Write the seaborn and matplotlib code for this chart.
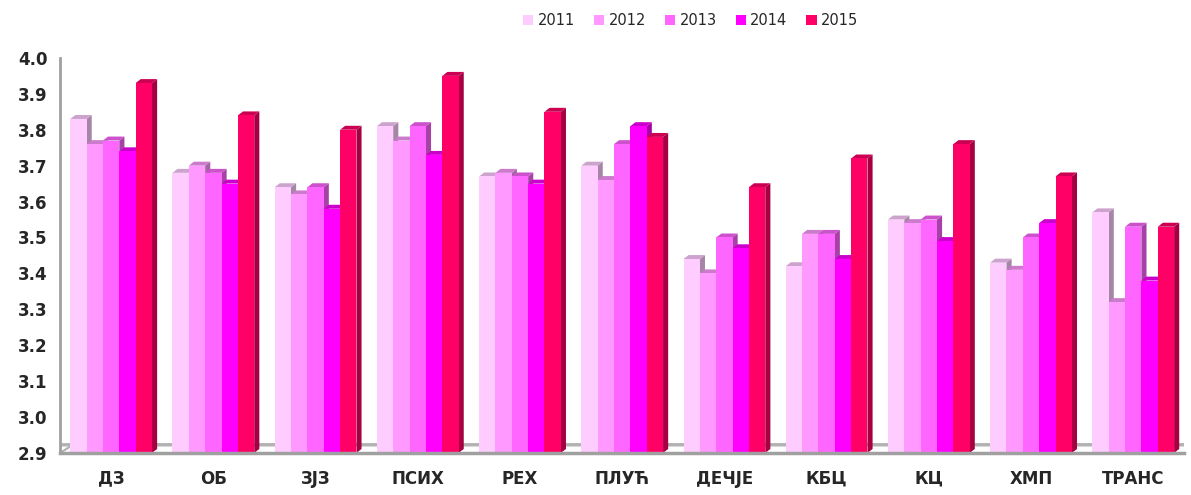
import matplotlib
matplotlib.use("Agg")
import matplotlib.pyplot as plt
import matplotlib.colors as mcolors
from matplotlib.patches import Polygon
import seaborn as sns
import pandas as pd

# Data
categories = ["ДЗ", "ОБ", "ЗЈЗ", "ПСИХ", "РЕХ", "ПЛУЋ", "ДЕЧЈЕ", "КБЦ", "КЦ", "ХМП", "ТРАНС"]
years = ["2011", "2012", "2013", "2014", "2015"]
v2011 = [3.83, 3.68, 3.64, 3.81, 3.67, 3.70, 3.44, 3.42, 3.55, 3.43, 3.57]
v2012 = [3.76, 3.70, 3.62, 3.77, 3.68, 3.66, 3.40, 3.51, 3.54, 3.41, 3.32]
v2013 = [3.77, 3.68, 3.64, 3.81, 3.67, 3.76, 3.50, 3.51, 3.55, 3.50, 3.53]
v2014 = [3.74, 3.65, 3.58, 3.73, 3.65, 3.81, 3.47, 3.44, 3.49, 3.54, 3.38]
v2015 = [3.93, 3.84, 3.80, 3.95, 3.85, 3.78, 3.64, 3.72, 3.76, 3.67, 3.53]
colors = ["#FFCCFF", "#FF99FF", "#FF66FF", "#FF00FF", "#FF0066"]

rows = []
for yr, vals in zip(years, [v2011, v2012, v2013, v2014, v2015]):
    for c, v in zip(categories, vals):
        rows.append({"cat": c, "year": yr, "val": v})
df = pd.DataFrame(rows)

sns.set_style("white")
plt.rcParams["font.family"] = ["DejaVu Sans"]

fig = plt.figure(figsize=(11.91, 4.95), dpi=100)
ax = fig.add_axes([0.0504, 0.085, 0.944, 0.798])

sns.barplot(data=df, x="cat", y="val", hue="year", palette=colors,
            width=0.8, saturation=1, edgecolor="none", linewidth=0,
            legend=False, ax=ax, zorder=2)

ymin, ymax = 2.9, 4.0
ax.set_ylim(ymin, ymax)
ax.set_xlim(-0.5, 10.5)

# fake 3D side and top faces
dx, dy = 0.05, 0.011
for p in list(ax.patches):
    x, w, h = p.get_x(), p.get_width(), p.get_height()
    rgb = mcolors.to_rgb(p.get_facecolor())
    side = tuple(c * 0.65 for c in rgb)
    top = tuple(c * 0.8 for c in rgb)
    ax.add_patch(Polygon([(x + w, ymin), (x + w, h), (x + w + dx, h + dy), (x + w + dx, ymin + dy)],
                         closed=True, facecolor=side, edgecolor="none", zorder=1.5))
    ax.add_patch(Polygon([(x, h), (x + w, h), (x + w + dx, h + dy), (x + dx, h + dy)],
                         closed=True, facecolor=top, edgecolor="none", zorder=1.5))

# floor
ax.axhline(ymin + 0.025, color="#B0B0B0", lw=2, zorder=0.5)
ax.axhline(ymin + 0.02, color="#D8D8D8", lw=1.5, zorder=0.4)
ax.plot([-0.5, -0.36], [ymin, ymin + 0.025], color="#B0B0B0", lw=1.5, zorder=0.6, clip_on=False)

ax.set_yticks([2.9 + 0.1 * k for k in range(12)])
ax.set_yticklabels([f"{2.9 + 0.1 * k:.1f}" for k in range(12)])
ax.set_xticks(range(len(categories)))
ax.set_xticklabels(categories)
ax.set_xticks([k + 0.5 for k in range(-1, len(categories))], minor=True)
ax.tick_params(axis="x", which="major", length=0, pad=12, labelsize=12)
ax.tick_params(axis="x", which="minor", length=7, color="#A0A0A0", width=1.5)
ax.tick_params(axis="y", length=5, color="#A0A0A0", width=1.5, labelsize=12, pad=4)
for lab in ax.get_xticklabels():
    lab.set_fontweight("bold")
for lab in ax.get_yticklabels():
    lab.set_fontweight("bold")
ax.set_xlabel("")
ax.set_ylabel("")

for s in ["top", "right"]:
    ax.spines[s].set_visible(False)
ax.spines["left"].set_color("#A0A0A0")
ax.spines["left"].set_linewidth(2)
ax.spines["bottom"].set_color("#A0A0A0")
ax.spines["bottom"].set_linewidth(2.5)

handles = [plt.Rectangle((0, 0), 1, 1, facecolor=c, edgecolor="none") for c in colors]
fig.legend(handles, years, loc="upper center", bbox_to_anchor=(0.58, 1.0), ncol=5,
           frameon=False, fontsize=10.5, handlelength=0.7, handleheight=0.7,
           handletextpad=0.3, columnspacing=1.3)

fig.savefig("out.png", dpi=100)
